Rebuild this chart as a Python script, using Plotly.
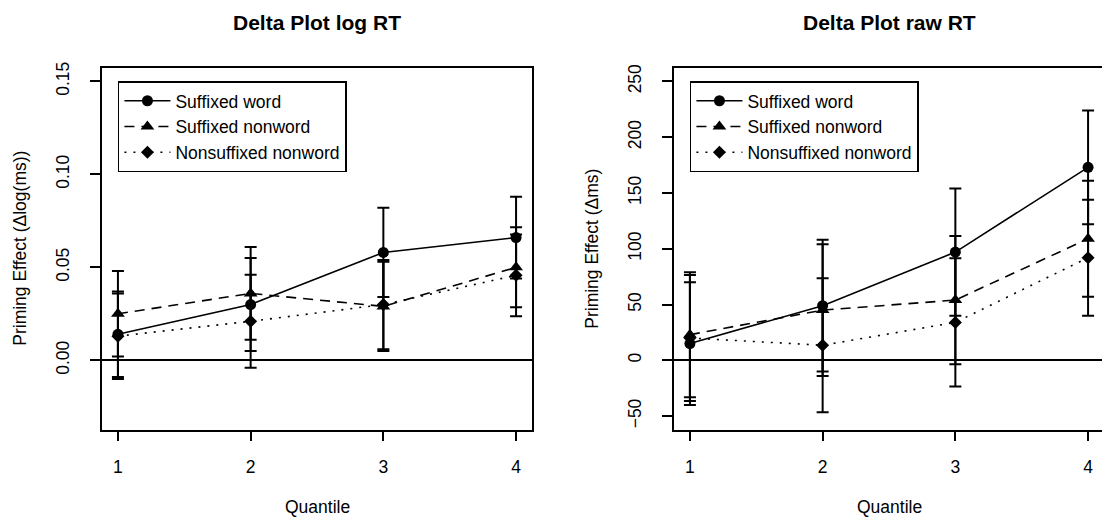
import plotly.graph_objects as go

# ---------------- data ----------------
quantiles = [1, 2, 3, 4]
tick_labels_x = ["1", "2", "3", "4"]

series_names = ["Suffixed word", "Suffixed nonword", "Nonsuffixed nonword"]

# Delta plot log RT (mean priming effect and CI half-width)
log_word = [0.014, 0.030, 0.058, 0.066]
log_word_ci = [0.023, 0.025, 0.024, 0.022]
log_nonword = [0.025, 0.036, 0.029, 0.050]
log_nonword_ci = [0.023, 0.025, 0.024, 0.0215]
log_nonsuff = [0.013, 0.021, 0.030, 0.0457]
log_nonsuff_ci = [0.023, 0.025, 0.024, 0.022]
log_yticks = [0.00, 0.05, 0.10, 0.15]
log_yticklabels = ["0.00", "0.05", "0.10", "0.15"]

# Delta plot raw RT
raw_word = [15, 49, 97, 173]
raw_word_ci = [55, 59, 57, 51]
raw_nonword = [23, 45, 54, 109]
raw_nonword_ci = [56, 59, 57.5, 52]
raw_nonsuff = [20, 13.5, 34, 92]
raw_nonsuff_ci = [56.5, 60, 57.5, 52]
raw_yticks = [-50, 0, 50, 100, 150, 200, 250]
raw_yticklabels = ["\u221250", "0", "50", "100", "150", "200", "250"]

# ---------------- layout geometry (pixels) ----------------
W, H = 1102, 519
BOX_TOP, BOX_BOT = 68, 429.5
L_X0, L_X1 = 102, 532
R_X0, R_X1 = 674, 1102
XLIM = (0.88, 4.12)
PX_PER_UNIT = (L_X1 - L_X0) / (XLIM[1] - XLIM[0])
LOG_YLIM = (-0.0372, 0.1572)
RAW_YLIM = (-62, 262)

def fx(px):
    return px / W

def fy(py):
    return 1 - py / H

FONT = "Liberation Sans, Arial, Helvetica, sans-serif"
BASE = 17.5
BLACK = "#000000"

styles = [
    dict(symbol="circle", size=11, dash="solid"),
    dict(symbol="triangle-up", size=12, dash="10px,7px"),
    dict(symbol="diamond", size=10, dash="2px,7px"),
]

fig = go.Figure()

panels = [
    ("x", "y", "legend", [log_word, log_nonword, log_nonsuff],
     [log_word_ci, log_nonword_ci, log_nonsuff_ci]),
    ("x2", "y2", "legend2", [raw_word, raw_nonword, raw_nonsuff],
     [raw_word_ci, raw_nonword_ci, raw_nonsuff_ci]),
]

for xa, ya, leg, vals, cis in panels:
    for name, st, v, ci in zip(series_names, styles, vals, cis):
        fig.add_trace(go.Scatter(
            x=quantiles, y=v, xaxis=xa, yaxis=ya, legend=leg, name=name,
            mode="lines+markers",
            line=dict(color=BLACK, width=1.6, dash=st["dash"]),
            marker=dict(color=BLACK, symbol=st["symbol"], size=st["size"],
                        line=dict(width=0)),
            error_y=dict(type="data", array=ci, symmetric=True, color=BLACK,
                         thickness=2, width=6),
            showlegend=True,
        ))

axis_common = dict(
    showgrid=False, showline=True, linecolor=BLACK, linewidth=1.5,
    ticks="outside", ticklen=10, tickwidth=1.5, tickcolor=BLACK,
    tickfont=dict(family=FONT, size=BASE, color=BLACK),
    automargin=False, fixedrange=True,
)

r_xmax = XLIM[0] + (R_X1 - R_X0) / PX_PER_UNIT

fig.update_layout(
    width=W, height=H,
    margin=dict(l=0, r=0, t=0, b=0),
    paper_bgcolor="white", plot_bgcolor="white",
    font=dict(family=FONT, size=BASE, color=BLACK),
    xaxis=dict(domain=[fx(L_X0), fx(L_X1)], range=list(XLIM), anchor="y",
               tickvals=quantiles, ticktext=tick_labels_x, mirror=True,
               zeroline=False, ticklabelstandoff=11, **axis_common),
    yaxis=dict(domain=[fy(BOX_BOT), fy(BOX_TOP)], range=list(LOG_YLIM), anchor="x",
               tickvals=log_yticks, ticktext=log_yticklabels, tickangle=-90,
               mirror=True, zeroline=True, zerolinecolor=BLACK, zerolinewidth=1.5,
               ticklabelstandoff=14, **axis_common),
    xaxis2=dict(domain=[fx(R_X0), fx(R_X1)], range=[XLIM[0], r_xmax], anchor="y2",
                tickvals=quantiles, ticktext=tick_labels_x, mirror=True,
                zeroline=False, ticklabelstandoff=11, **axis_common),
    yaxis2=dict(domain=[fy(BOX_BOT), fy(BOX_TOP)], range=list(RAW_YLIM), anchor="x2",
                tickvals=raw_yticks, ticktext=raw_yticklabels, tickangle=-90,
                mirror=False, zeroline=True, zerolinecolor=BLACK, zerolinewidth=1.5,
                ticklabelstandoff=14, **axis_common),
)

def legend_pos(x0px, ylim, yval):
    # place legend top-left corner at data point (1, top tick)
    xpx = x0px + (1 - XLIM[0]) * PX_PER_UNIT
    ypx = BOX_TOP + (ylim[1] - yval) / (ylim[1] - ylim[0]) * (BOX_BOT - BOX_TOP)
    return fx(xpx), fy(ypx)

lx, ly = legend_pos(L_X0, LOG_YLIM, log_yticks[-1])
rx, ry = legend_pos(R_X0, RAW_YLIM, raw_yticks[-1])
legend_common = dict(
    xanchor="left", yanchor="top", bgcolor="white",
    bordercolor=BLACK, borderwidth=1.5,
    font=dict(family=FONT, size=BASE, color=BLACK),
    itemwidth=46, tracegroupgap=0, traceorder="normal",
)
fig.update_layout(
    legend=dict(x=lx, y=ly, **legend_common),
    legend2=dict(x=rx, y=ry, **legend_common),
)

# titles and axis titles
titles = [
    ("Delta Plot log RT", "Priming Effect (\u0394log(ms))", L_X0, L_X1),
    ("Delta Plot raw RT", "Priming Effect (\u0394ms)", R_X0, R_X0 + (L_X1 - L_X0)),
]
for main, ylab, x0, x1 in titles:
    cx = (x0 + x1) / 2
    fig.add_annotation(text="<b>" + main + "</b>", x=fx(cx), y=fy(23),
                       xref="paper", yref="paper", showarrow=False,
                       xanchor="center", yanchor="middle",
                       font=dict(family=FONT, size=21, color=BLACK))
    fig.add_annotation(text="Quantile", x=fx(cx), y=fy(507),
                       xref="paper", yref="paper", showarrow=False,
                       xanchor="center", yanchor="middle",
                       font=dict(family=FONT, size=BASE, color=BLACK))
    fig.add_annotation(text=ylab, x=fx(x0 - 82), y=fy((BOX_TOP + BOX_BOT) / 2),
                       xref="paper", yref="paper", showarrow=False, textangle=-90,
                       xanchor="center", yanchor="middle",
                       font=dict(family=FONT, size=BASE, color=BLACK))

fig.write_html("out.html", config={"displayModeBar": False})
